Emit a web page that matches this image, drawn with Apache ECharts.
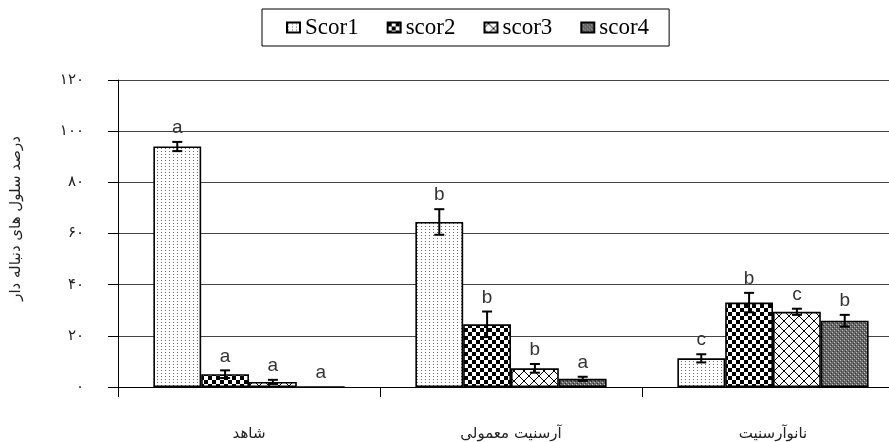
<!DOCTYPE html>
<html>
<head>
<meta charset="utf-8">
<script src="https://cdn.jsdelivr.net/npm/echarts@6/dist/echarts.min.js"></script>
<style>
  html, body { margin: 0; padding: 0; background: #fff; }
  #chart { width: 889px; height: 442px; }
</style>
</head>
<body>
<div id="chart"></div>
<script>
// Treatment groups (x axis)
const categories = ['شاهد', 'آرسنیت معمولی', 'نانوآرسنیت'];
// Comet score classes
const seriesNames = ['Scor1', 'scor2', 'scor3', 'scor4'];
// Mean percentage of tailed cells per score class
const scor1 = [94, 64.5, 11.2];
const scor2 = [5, 24.5, 33];
const scor3 = [2, 7.3, 29.4];
const scor4 = [0, 3.2, 25.9];
// Standard errors
const err1 = [1.8, 5, 1.6];
const err2 = [1.5, 5, 3.8];
const err3 = [0.8, 1.7, 1.2];
const err4 = [0, 0.8, 2.3];
// Significance letters
const let1 = ['a', 'b', 'c'];
const let2 = ['a', 'b', 'b'];
const let3 = ['a', 'b', 'c'];
const let4 = ['a', 'a', 'b'];
// Y axis ticks
const yTicks = [0, 20, 40, 60, 80, 100, 120];

const values = [scor1, scor2, scor3, scor4];
const errors = [err1, err2, err3, err4];
const letters = [let1, let2, let3, let4];

const persianDigits = '۰۱۲۳۴۵۶۷۸۹';
function toPersian(n) {
  return String(n).replace(/[0-9]/g, d => persianDigits[+d]);
}

// Fill patterns drawn on small canvases
function makePattern(w, h, draw) {
  const c = document.createElement('canvas');
  c.width = w; c.height = h;
  const ctx = c.getContext('2d');
  draw(ctx, w, h);
  return c;
}
function px(ctx, pts, w, h, dx, dy) {
  pts.forEach(p => ctx.fillRect((p[0] + dx + w) % w, (p[1] + dy + h) % h, 1, 1));
}
const patDots = makePattern(4, 3, (ctx, w, h) => {
  ctx.fillStyle = '#fff'; ctx.fillRect(0, 0, w, h);
  ctx.fillStyle = '#666'; ctx.fillRect(1, 1, 1, 1);
});
const patChecker = makePattern(8, 8, (ctx, w, h) => {
  ctx.fillStyle = '#fff'; ctx.fillRect(0, 0, w, h);
  ctx.fillStyle = '#000';
  ctx.fillRect(0, 0, 4, 4);
  ctx.fillRect(4, 4, 4, 4);
});
// fish-scale arcs, every other row shifted by half a tile
const scaleArc = [[0, 4], [1, 3], [2, 2], [3, 1], [4, 1], [5, 2], [6, 3], [7, 4], [8, 5], [9, 5]];
const patScales = makePattern(10, 10, (ctx, w, h) => {
  ctx.fillStyle = '#fff'; ctx.fillRect(0, 0, w, h);
  ctx.fillStyle = '#000';
  px(ctx, scaleArc, w, h, 0, 0);
  px(ctx, scaleArc, w, h, 5, 5);
});
const patGrey = makePattern(4, 4, (ctx, w, h) => {
  ctx.fillStyle = '#686868'; ctx.fillRect(0, 0, w, h);
  ctx.fillStyle = '#c4c4c4';
  ctx.fillRect(0, 0, 1, 1);
  ctx.fillRect(2, 2, 1, 1);
  ctx.fillStyle = '#333';
  ctx.fillRect(1, 3, 1, 1);
  ctx.fillRect(3, 1, 1, 1);
});
const patterns = [patDots, patChecker, patScales, patGrey];

const GAP = 0.27;

const barSeries = seriesNames.map((name, i) => ({
  name: name,
  type: 'bar',
  data: values[i],
  barGap: '0%',
  barCategoryGap: (GAP * 100) + '%',
  itemStyle: {
    color: { image: patterns[i], repeat: 'repeat' },
    borderColor: '#000',
    borderWidth: 1.6
  },
  emphasis: { disabled: true },
  z: 2
}));

// Error bars and significance letters
const errSeries = seriesNames.map((name, i) => ({
  name: name + '-err',
  type: 'custom',
  z: 5,
  data: categories.map((c, k) => [k, values[i][k], errors[i][k]]),
  renderItem: function (params, api) {
    const k = api.value(0);
    const v = api.value(1);
    const e = api.value(2);
    const letter = letters[i][k];
    const band = api.size([1, 0])[0];
    const bw = band * (1 - GAP) / 4;
    const center = api.coord([k, v]);
    const x = center[0] + (i - 1.5) * bw;
    const yTop = api.coord([k, v + e])[1];
    const yBot = api.coord([k, v - e])[1];
    const cap = 5;
    const children = [];
    if (e > 0) {
      const st = { stroke: '#000', lineWidth: 2 };
      children.push({ type: 'line', shape: { x1: x, y1: yTop, x2: x, y2: yBot }, style: st });
      children.push({ type: 'line', shape: { x1: x - cap, y1: yTop, x2: x + cap, y2: yTop }, style: st });
      children.push({ type: 'line', shape: { x1: x - cap, y1: yBot, x2: x + cap, y2: yBot }, style: st });
    }
    children.push({
      type: 'text',
      x: x,
      y: yTop - 14,
      style: {
        text: letter,
        fill: '#333',
        font: '19px "Liberation Sans", Arial, sans-serif',
        textAlign: 'center',
        textVerticalAlign: 'middle'
      }
    });
    return { type: 'group', children: children };
  }
}));

const chart = echarts.init(document.getElementById('chart'));
chart.setOption({
  backgroundColor: '#fff',
  animation: false,
  legend: {
    data: seriesNames,
    left: 262,
    top: 9,
    padding: [7, 20, 7, 24],
    itemGap: 28,
    itemWidth: 13,
    itemHeight: 10,
    icon: 'rect',
    borderColor: '#000',
    borderWidth: 1,
    textStyle: {
      fontFamily: '"Liberation Serif", "Times New Roman", serif',
      fontSize: 23,
      color: '#000'
    }
  },
  grid: {
    left: 118,
    right: -15,
    top: 80,
    bottom: 55,
    containLabel: false,
    outerBoundsMode: 'none'
  },
  xAxis: {
    type: 'category',
    data: categories,
    axisLine: { lineStyle: { color: '#000', width: 1 } },
    axisTick: { show: true, length: 10, lineStyle: { color: '#000' } },
    axisLabel: {
      margin: 40,
      color: '#222',
      fontSize: 15,
      fontFamily: '"DejaVu Sans", sans-serif'
    }
  },
  yAxis: {
    type: 'value',
    min: 0,
    max: 120,
    interval: 20,
    name: 'درصد سلول های دنباله دار',
    nameLocation: 'middle',
    nameRotate: 90,
    nameGap: 94,
    nameTextStyle: {
      color: '#222',
      fontSize: 15,
      fontFamily: '"DejaVu Sans", sans-serif',
      padding: [0, 0, 0, 30]
    },
    axisLine: { show: true, lineStyle: { color: '#000', width: 1 } },
    axisTick: { show: true, length: 10, lineStyle: { color: '#000' } },
    axisLabel: {
      margin: 34,
      color: '#222',
      fontSize: 15,
      fontFamily: '"DejaVu Sans", sans-serif',
      formatter: v => yTicks.includes(v) ? toPersian(v) : ''
    },
    splitLine: { show: true, lineStyle: { color: '#444', width: 1 } }
  },
  series: barSeries.concat(errSeries)
});
</script>
</body>
</html>
